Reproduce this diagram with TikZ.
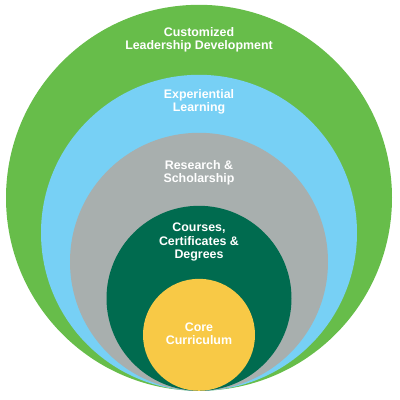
\documentclass[tikz,border=0pt]{standalone}
\usepackage{fontspec}
\setmainfont{Liberation Sans}
\usetikzlibrary{positioning}

\definecolor{leadgreen}{HTML}{67BD4A}
\definecolor{expblue}{HTML}{77D0F5}
\definecolor{resgray}{HTML}{A8AFAE}
\definecolor{coursegreen}{HTML}{006B4F}
\definecolor{coreyellow}{HTML}{F8C946}

\begin{document}
\begin{tikzpicture}[x=1pt,y=-1pt,
  ring/.style={circle, inner sep=0pt, anchor=south},
  tag/.style={text=white, font=\bfseries\fontsize{12.4}{13.2}\selectfont, align=center}]
  \useasboundingbox (0,0) rectangle (400,400);
  \coordinate (base) at (199,391);

  % nested rings, all touching at the bottom
  \node[ring, fill=leadgreen, minimum size=386pt] (lead) at (base) {};
  \node[ring, fill=expblue, minimum size=316pt] (exp) at (base) {};
  \node[ring, fill=resgray, minimum size=258pt] (res) at (base) {};
  \node[ring, fill=coursegreen, minimum size=185pt] (course) at (base) {};
  \node[ring, fill=coreyellow, minimum size=112pt] (core) at (base) {};

  \node[tag] (leadtxt) at (199,40) {Customized\\Leadership Development};
  \node[tag] (exptxt) at (199,102) {Experiential\\Learning};
  \node[tag] (restxt) at (199,173) {Research \&\\Scholarship};
  \node[tag] (coursetxt) at (199,242) {Courses,\\Certificates \&\\Degrees};
  \node[tag] (coretxt) at (199,334) {Core\\Curriculum};
\end{tikzpicture}
\end{document}
